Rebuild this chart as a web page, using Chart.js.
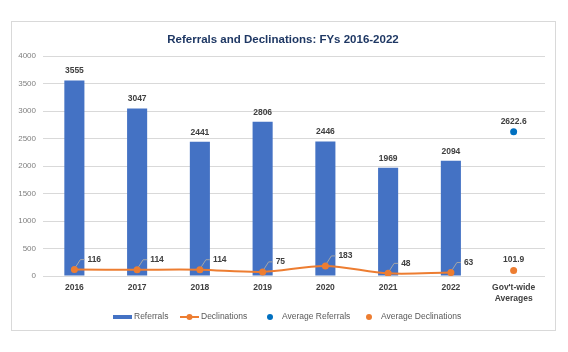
<!DOCTYPE html>
<html>
<head>
<meta charset="utf-8">
<script src="https://cdn.jsdelivr.net/npm/chart.js@4/dist/chart.umd.min.js"></script>
<style>
  html, body { margin: 0; padding: 0; background: #fff; }
  #wrap { width: 568px; height: 352px; position: relative; }
</style>
</head>
<body>
<div id="wrap"><canvas id="c" width="568" height="352"></canvas></div>
<script>
const categories = ['2016', '2017', '2018', '2019', '2020', '2021', '2022', ["Gov't-wide", 'Averages']];
const referrals = [3555, 3047, 2441, 2806, 2446, 1969, 2094, null];
const declinations = [116, 114, 114, 75, 183, 48, 63, null];
const avgReferrals = [null, null, null, null, null, null, null, 2622.6];
const avgDeclinations = [null, null, null, null, null, null, null, 101.9];
const yMin = 0, yMax = 4000, yStep = 500;
const titleText = 'Referrals and Declinations: FYs 2016-2022';

const FONT = "'Liberation Sans', Arial, sans-serif";

const framePlugin = {
  id: 'frame',
  beforeDraw(chart) {
    const ctx = chart.ctx;
    ctx.save();
    ctx.fillStyle = '#ffffff';
    ctx.fillRect(0, 0, chart.width, chart.height);
    ctx.strokeStyle = '#d9d9d9';
    ctx.lineWidth = 1;
    ctx.strokeRect(11.5, 21.5, 544, 309);
    ctx.fillStyle = '#1F3864';
    ctx.font = 'bold 11.5px ' + FONT;
    ctx.textAlign = 'center';
    ctx.textBaseline = 'middle';
    ctx.fillText(titleText, 283, 40);
    ctx.restore();
  }
};

const labelsPlugin = {
  id: 'valueLabels',
  afterDatasetsDraw(chart) {
    const ctx = chart.ctx;
    ctx.save();
    ctx.font = 'bold 8.5px ' + FONT;
    ctx.fillStyle = '#404040';
    ctx.textBaseline = 'middle';
    chart.data.datasets.forEach((ds, di) => {
      const meta = chart.getDatasetMeta(di);
      meta.data.forEach((el, i) => {
        const v = ds.data[i];
        if (v === null || v === undefined) return;
        const x = el.x, y = el.y;
        if (ds.labelMode === 'above') {
          ctx.textAlign = 'center';
          ctx.fillText(String(v), x, y - 9.5);
        } else if (ds.labelMode === 'callout') {
          ctx.strokeStyle = '#a6a6a6';
          ctx.lineWidth = 1;
          ctx.beginPath();
          ctx.moveTo(x + 1.5, y - 3);
          ctx.lineTo(x + 6, y - 10);
          ctx.lineTo(x + 10, y - 10);
          ctx.stroke();
          ctx.textAlign = 'left';
          ctx.fillText(String(v), x + 13, y - 10);
        } else if (ds.labelMode === 'point') {
          ctx.textAlign = 'center';
          ctx.fillText(String(v), x, y - 10.5);
        }
      });
    });
    ctx.restore();
  }
};

const legendPlugin = {
  id: 'customLegend',
  afterDraw(chart) {
    const ctx = chart.ctx;
    const ds = chart.data.datasets;
    const y = 317;
    ctx.save();
    ctx.font = '8.5px ' + FONT;
    ctx.textBaseline = 'middle';
    ctx.textAlign = 'left';
    ctx.fillStyle = ds[0].backgroundColor;
    ctx.fillRect(113, y - 2, 19, 4);
    ctx.fillStyle = '#595959';
    ctx.fillText(ds[0].label, 134, y);
    ctx.strokeStyle = ds[1].borderColor;
    ctx.lineWidth = 2;
    ctx.beginPath(); ctx.moveTo(180, y); ctx.lineTo(199, y); ctx.stroke();
    ctx.fillStyle = ds[1].borderColor;
    ctx.beginPath(); ctx.arc(189.5, y, 3, 0, Math.PI * 2); ctx.fill();
    ctx.fillStyle = '#595959';
    ctx.fillText(ds[1].label, 201, y);
    ctx.fillStyle = ds[2].backgroundColor;
    ctx.beginPath(); ctx.arc(270, y, 3, 0, Math.PI * 2); ctx.fill();
    ctx.fillStyle = '#595959';
    ctx.fillText(ds[2].label, 282, y);
    ctx.fillStyle = ds[3].backgroundColor;
    ctx.beginPath(); ctx.arc(369, y, 3, 0, Math.PI * 2); ctx.fill();
    ctx.fillStyle = '#595959';
    ctx.fillText(ds[3].label, 381, y);
    ctx.restore();
  }
};

new Chart(document.getElementById('c'), {
  type: 'bar',
  data: {
    labels: categories,
    datasets: [
      {
        type: 'bar', label: 'Referrals', data: referrals,
        backgroundColor: '#4472C4', borderColor: '#4472C4', borderWidth: 0,
        barPercentage: 0.32, categoryPercentage: 1, labelMode: 'above', order: 4
      },
      {
        type: 'line', label: 'Declinations', data: declinations,
        borderColor: '#ED7D31', backgroundColor: '#ED7D31', borderWidth: 2,
        pointRadius: 3.5, pointBackgroundColor: '#ED7D31', pointBorderWidth: 0,
        tension: 0.3, fill: false, labelMode: 'callout', order: 1
      },
      {
        type: 'line', label: 'Average Referrals', data: avgReferrals,
        showLine: false, borderColor: '#0070C0', backgroundColor: '#0070C0',
        pointRadius: 3.5, pointBorderWidth: 0, labelMode: 'point', order: 2
      },
      {
        type: 'line', label: 'Average Declinations', data: avgDeclinations,
        showLine: false, borderColor: '#ED7D31', backgroundColor: '#ED7D31',
        pointRadius: 3.5, pointBorderWidth: 0, labelMode: 'point', order: 3
      }
    ]
  },
  options: {
    responsive: false,
    animation: false,
    devicePixelRatio: 1,
    layout: { padding: { top: 56, left: 0, right: 23, bottom: 0 } },
    plugins: {
      legend: { display: false },
      title: { display: false },
      tooltip: { enabled: false }
    },
    scales: {
      x: {
        offset: true,
        grid: { display: false, drawTicks: false },
        border: { display: false },
        ticks: {
          color: '#404040', padding: 7,
          font: { family: FONT, size: 8.5, weight: 'bold' },
          maxRotation: 0, autoSkip: false
        },
        afterFit(scale) { scale.height = 76; }
      },
      y: {
        min: yMin, max: yMax,
        grid: { color: '#d9d9d9', drawTicks: false, lineWidth: 1 },
        border: { display: false },
        ticks: {
          stepSize: yStep, color: '#7f7f7f', padding: 7,
          font: { family: FONT, size: 8 },
          callback: (v) => String(v)
        },
        afterFit(scale) { scale.width = 43; }
      }
    }
  },
  plugins: [framePlugin, labelsPlugin, legendPlugin]
});
</script>
</body>
</html>
